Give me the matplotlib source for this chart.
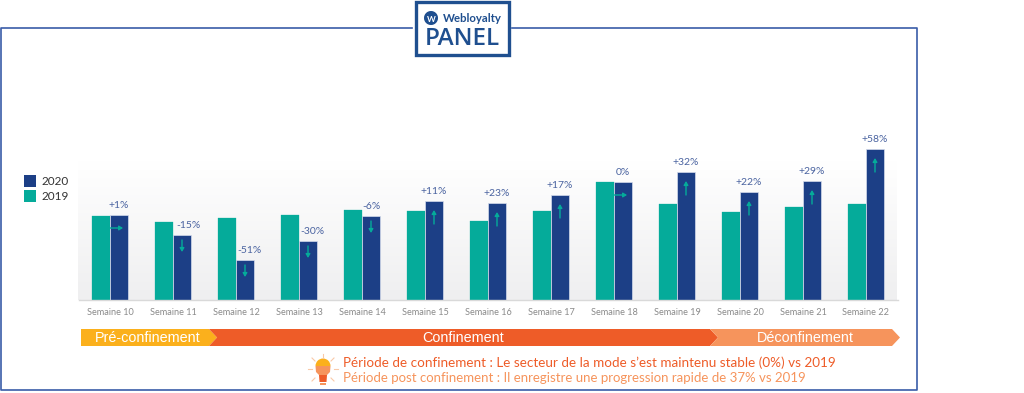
import numpy as np
import matplotlib
matplotlib.use("Agg")
import matplotlib.pyplot as plt
from matplotlib.patches import Polygon, Rectangle, Wedge

weeks = ["Semaine %d" % w for w in range(10, 23)]
values_2019 = [84, 78, 82, 85, 90, 89, 79, 89, 118, 96, 88, 93, 96]
values_2020 = [85, 65, 40, 59, 84, 99, 97, 105, 118, 128, 108, 119, 151]
changes = ["+1%", "-15%", "-51%", "-30%", "-6%", "+11%", "+23%", "+17%", "0%", "+32%", "+22%", "+29%", "+58%"]
label_shift_x = [0, 6, 4, 4, 0, 0, 0, 0, 0, 0, 0, 0, 0]
arrow_dirs = ["flat", "down", "down", "down", "down", "up", "up", "up", "flat", "up", "up", "up", "up"]
phases = ["Pré-confinement", "Confinement", "Déconfinement"]
phase_colors = ["#fbb01c", "#ee5c28", "#f6945c"]

TEAL = "#05ab9a"
NAVY = "#1c3f86"
LABEL = "#4a63a0"
W, H = 1024, 393

fig = plt.figure(figsize=(W / 100, H / 100), dpi=100)
plt.rcParams["font.family"] = ["Lato", "DejaVu Sans"]

# full figure overlay in pixel coords, y pointing down
bg = fig.add_axes([0, 0, 1, 1], zorder=0)
bg.set_xlim(0, W)
bg.set_ylim(H, 0)
bg.axis("off")

# soft grey gradient behind the bars
grad = np.linspace(0, 1, 100).reshape(-1, 1)
bg.imshow(grad, extent=(78, 897, 300, 160), cmap=matplotlib.colors.LinearSegmentedColormap.from_list(
    "g", ["#ffffff", "#efeff0"]), aspect="auto", origin="upper", zorder=1)
bg.set_xlim(0, W)
bg.set_ylim(H, 0)

# outer frame with the gap for the logo
frame = "#3a5ca8"
bg.plot([412, 1, 1, 917, 917, 512], [28, 28, 390, 390, 28, 28], color=frame, lw=1.2, zorder=2)

# logo
bg.add_patch(Rectangle((416, 2), 93, 53, fc="white", ec="#1f4f8f", lw=2.4, zorder=3))
bg.add_patch(Wedge((431, 18), 7, 0, 360, fc="#1f4f8f", ec="none", zorder=4))
bg.text(431, 19, "W", color="white", fontsize=6, fontweight="bold", ha="center", va="center", zorder=5)
bg.text(472, 19, "Webloyalty", color="#1f4f8f", fontsize=8.2, fontweight="bold", ha="center", va="center", zorder=4)
bg.text(462, 39, "PANEL", color="#1f4f8f", fontsize=17.5, fontweight="semibold", family="Open Sans", ha="center", va="center", zorder=4)

# main chart
ax = fig.add_axes([78.5 / W, (H - 300) / H, 819 / W, 170 / H], zorder=2)
ax.patch.set_alpha(0)
x = np.arange(len(weeks))
bw = 18 / 63
ax.bar(x - bw / 2, values_2019, bw, color=TEAL, edgecolor=TEAL, linewidth=0.2)
ax.bar(x + bw / 2, values_2020, bw, color=NAVY, edgecolor="#d5dcec", linewidth=0.5)
ax.set_xlim(-0.5, 12.5)
ax.set_ylim(0, 170)
ax.set_xticks(x)
ax.set_xticklabels(weeks, fontsize=6.6, color="#8a8a8a")
ax.set_yticks([])
ax.tick_params(axis="x", length=0, pad=6)
for s in ["top", "left", "right"]:
    ax.spines[s].set_visible(False)
ax.spines["bottom"].set_color("#d9d9d9")
ax.spines["bottom"].set_linewidth(1)

for i, v in enumerate(values_2020):
    xpos = i + bw / 2 + label_shift_x[i] / 63
    ax.text(xpos, v + 5 if i != 0 else v + 5, changes[i], color=LABEL, fontsize=7.5, ha="center", va="bottom")
    # little trend arrow inside the navy bar
    bx = i + bw / 2
    if arrow_dirs[i] == "flat":
        start, end = (bx - 0.14, v - 13), (bx + 0.065, v - 13)
    elif arrow_dirs[i] == "down":
        start, end = (bx, v - 5), (bx, v - 17)
    else:
        start, end = (bx, v - 23), (bx, v - 9)
    ax.annotate("", xy=end, xytext=start,
                arrowprops=dict(arrowstyle="-|>,head_width=0.13,head_length=0.22", color=TEAL, lw=1.0,
                                shrinkA=0, shrinkB=0))

# legend by hand
bg.add_patch(Rectangle((24, 175), 12, 12, fc=NAVY, ec="none", zorder=3))
bg.add_patch(Rectangle((24, 190), 12, 12, fc=TEAL, ec="none", zorder=3))
bg.text(42, 181.5, "2020", fontsize=8.5, color="#333333", va="center", zorder=3)
bg.text(42, 196.5, "2019", fontsize=8.5, color="#333333", va="center", zorder=3)

# phase chevrons
y0, y1 = 329, 346
ym = (y0 + y1) / 2
shapes = [
    [(81, y0), (209, y0), (217, ym), (209, y1), (81, y1)],
    [(209, y0), (710, y0), (718, ym), (710, y1), (209, y1), (217, ym)],
    [(710, y0), (892, y0), (900, ym), (892, y1), (710, y1), (718, ym)],
]
for pts, c in zip(shapes, phase_colors):
    bg.add_patch(Polygon(pts, closed=True, fc=c, ec="none", zorder=3))
phase_x = [148, 463, 805]
for name, px in zip(phases, phase_x):
    bg.text(px, ym + 0.3, name, color="white", fontsize=10.4, family="Liberation Sans", ha="center", va="center", zorder=4)

# light bulb icon
bg.add_patch(Wedge((323, 366), 7.5, 180, 360, fc="#fbb01c", ec="none", zorder=3))
bg.add_patch(Polygon([(315.5, 366), (330.5, 366), (330, 372), (327, 375), (319, 375), (316, 372)], fc="#f6945c", ec="none", zorder=3))
bg.add_patch(Polygon([(319, 375), (327, 375), (326.5, 382), (319.5, 382)], fc="#ee5c28", ec="none", zorder=3))
bg.add_patch(Rectangle((320, 383), 6, 2.2, fc="#f6945c", ec="none", zorder=3))
for a, b, c, d in [(323, 354, 323, 358), (312, 358, 315, 361), (334, 358, 331, 361),
                   (308, 369, 312, 369), (334, 369, 338, 369), (312, 381, 315, 378), (334, 381, 331, 378)]:
    bg.plot([a, c], [b, d], color="#f9c9a8", lw=0.8, zorder=3)

bg.text(343, 363, "Période de confinement : Le secteur de la mode s’est maintenu stable (0%) vs 2019",
        color="#ee5c28", fontsize=9.75, va="center", zorder=3)
bg.text(343, 378.5, "Période post confinement : Il enregistre une progression rapide de 37% vs 2019",
        color="#f6945c", fontsize=9.55, va="center", zorder=3)

fig.savefig("out.png", dpi=100)
